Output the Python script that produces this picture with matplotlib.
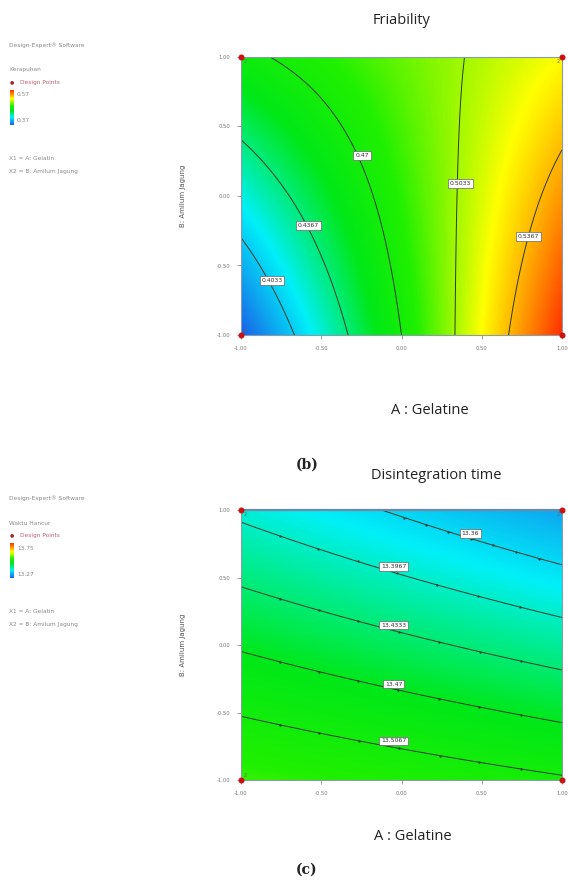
import numpy as np
import matplotlib
matplotlib.use("Agg")
import matplotlib.pyplot as plt
from matplotlib.colors import LinearSegmentedColormap, Normalize
from matplotlib.cm import ScalarMappable

# ---------------- data ----------------
tick_vals = [-1.0, -0.5, 0.0, 0.5, 1.0]
tick_labels = ["-1.00", "-0.50", "0.00", "0.50", "1.00"]

# Friability (Kerapuhan) response-surface model: b0, bA, bB, bAB
fri_coef = [0.48125, 0.06375, 0.01125, -0.03625]
fri_range = [0.37, 0.57]
fri_levels = [0.4033, 0.4367, 0.47, 0.5033, 0.5367]
fri_level_labels = ["0.4033", "0.4367", "0.47", "0.5033", "0.5367"]
fri_label_pos = [(-0.807, -0.61), (-0.578, -0.21), (-0.246, 0.289), (0.367, 0.09), (0.792, -0.293)]

# Disintegration time (Waktu Hancur) model: b0, bA, bB, bAB
dis_coef = [13.4411, -0.0252, -0.0853, -0.0088]
dis_range = [13.27, 13.75]
dis_levels = [13.36, 13.3967, 13.4333, 13.47, 13.5067]
dis_level_labels = ["13.36", "13.3967", "13.4333", "13.47", "13.5067"]
dis_label_pos = [(0.429, 0.827), (-0.049, 0.58), (-0.049, 0.148), (-0.049, -0.289), (-0.049, -0.711)]

design_A = [-1, 1, -1, 1]
design_B = [-1, -1, 1, 1]

# ---------------- figure ----------------
W, H = 568, 888
fig = plt.figure(figsize=(W / 100, H / 100), dpi=100)
fig.patch.set_facecolor("white")

cmap = LinearSegmentedColormap.from_list(
    "de", [(0.0, "#1a60e8"), (0.22, "#00f0f8"), (0.42, "#00e818"), (0.55, "#20f000"),
           (0.75, "#ffff00"), (1.0, "#ff3000")])


def px(x, y):
    return x / W, 1 - y / H


def model(c, A, B):
    return c[0] + c[1] * A + c[2] * B + c[3] * A * B


def panel(top, bottom, coef, rng, levels, labels, label_pos, dotted):
    ax = fig.add_axes([241 / W, 1 - bottom / H, 321 / W, (bottom - top) / H])
    a = np.linspace(-1, 1, 300)
    A, B = np.meshgrid(a, a)
    Z = model(coef, A, B)
    ax.imshow(Z, extent=[-1, 1, -1, 1], origin="lower", cmap=cmap,
              vmin=rng[0], vmax=rng[1], aspect="auto", interpolation="bilinear")
    cs = ax.contour(A, B, Z, levels=levels, colors="#2a3a2a", linewidths=0.7)
    for (lx, ly), lab in zip(label_pos, labels):
        ax.text(lx, ly, lab, fontsize=4.4, color="#333333", ha="center", va="center", zorder=6,
                bbox=dict(facecolor="white", edgecolor="#666666", pad=1.3, linewidth=0.5))
    if dotted:
        for seg in cs.allsegs:
            for s in seg:
                idx = np.linspace(0, len(s) - 1, 9).astype(int)[1:-1]
                ax.plot(s[idx, 0], s[idx, 1], ".", color="#2a3a2a", ms=1.3)
    ax.scatter(design_A, design_B, s=11, color="#cc1111", zorder=5, clip_on=False)
    ax.text(-0.985, 0.985, "2", fontsize=3.5, color="#666666", ha="left", va="top", zorder=6)
    ax.text(0.985, 0.985, "2", fontsize=3.5, color="#666666", ha="right", va="top", zorder=6)
    ax.text(-0.985, -0.985, "2", fontsize=3.5, color="#666666", ha="left", va="bottom", zorder=6)
    ax.set_xlim(-1, 1)
    ax.set_ylim(-1, 1)
    ax.set_xticks(tick_vals)
    ax.set_xticklabels(tick_labels)
    ax.set_yticks(tick_vals)
    ax.set_yticklabels(tick_labels)
    ax.tick_params(labelsize=3.8, labelcolor="#777777", color="#777777", length=3, width=0.5, pad=5)
    for sp in ax.spines.values():
        sp.set_color("#8a9aa8")
        sp.set_linewidth(0.8)
    ax.set_ylabel("B: Amilum Jagung", fontsize=5, color="#555555", labelpad=22)
    return ax


panel(57, 335, fri_coef, fri_range, fri_levels, fri_level_labels, fri_label_pos, False)
ax2 = panel(510, 780, dis_coef, dis_range, dis_levels, dis_level_labels, dis_label_pos, True)
ax2.spines["top"].set_color("#6a8aa8")
ax2.spines["top"].set_linewidth(1.6)

title_font = dict(family="Open Sans", fontsize=10.5, color="#222222")
fig.text(*px(402, 20), "Friability", ha="center", va="center", **title_font)
fig.text(*px(430, 410), "A : Gelatine", ha="center", va="center", **title_font)
fig.text(*px(436, 475), "Disintegration time", ha="center", va="center", **title_font)
fig.text(*px(413, 836), "A : Gelatine", ha="center", va="center", **title_font)
fig.text(*px(307, 465), "(b)", ha="center", va="center", family="DejaVu Serif",
         fontweight="bold", fontsize=10, color="#222222")
fig.text(*px(307, 870), "(c)", ha="center", va="center", family="DejaVu Serif",
         fontweight="bold", fontsize=10, color="#222222")


def legend(y0, name, rng):
    g = "#8a8a8a"
    fs = 4.2
    fig.text(*px(9, y0), "Design-Expert\u00ae Software", fontsize=fs, color=g, va="center")
    fig.text(*px(9, y0 + 25), name, fontsize=fs, color=g, va="center")
    fig.text(*px(12, y0 + 37), "\u25cf", fontsize=3.5, color="#aa2233", va="center", ha="center")
    fig.text(*px(20, y0 + 37), "Design Points", fontsize=fs, color="#c06070", va="center")
    cax = fig.add_axes([10 / W, 1 - (y0 + 80) / H, 4 / W, 35 / H])
    cb = fig.colorbar(ScalarMappable(Normalize(rng[0], rng[1]), cmap), cax=cax)
    cb.outline.set_visible(False)
    cb.set_ticks([])
    fig.text(*px(17, y0 + 50), f"{rng[1]:.2f}", fontsize=fs, color=g, va="center")
    fig.text(*px(17, y0 + 76), f"{rng[0]:.2f}", fontsize=fs, color=g, va="center")
    fig.text(*px(9, y0 + 113), "X1 = A: Gelatin", fontsize=fs, color=g, va="center")
    fig.text(*px(9, y0 + 126), "X2 = B: Amilum Jagung", fontsize=fs, color=g, va="center")


legend(45, "Kerapuhan", fri_range)
legend(498, "Waktu Hancur", dis_range)

fig.savefig("out.png", dpi=100, facecolor="white")
